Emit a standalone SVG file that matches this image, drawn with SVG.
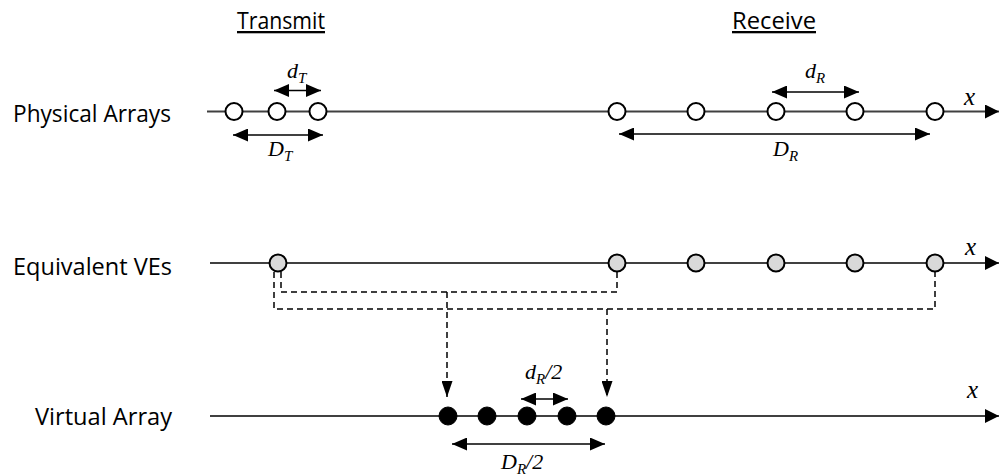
<svg xmlns="http://www.w3.org/2000/svg" width="999" height="476" viewBox="0 0 999 476">
  <defs>
    <marker id="tip" viewBox="0 0 15 13" refX="15" refY="6.5" markerWidth="15" markerHeight="13" markerUnits="userSpaceOnUse" orient="auto-start-reverse">
      <path d="M0,0 L15,6.5 L0,13 Z" fill="#000"/>
    </marker>
    <marker id="axis" viewBox="0 0 14 14" refX="14" refY="7" markerWidth="14" markerHeight="14" markerUnits="userSpaceOnUse" orient="auto">
      <path d="M0,0 L14,7 L0,14 Z" fill="#000"/>
    </marker>
    <marker id="drop" viewBox="0 0 11 16" refX="5.5" refY="16" markerWidth="11" markerHeight="16" markerUnits="userSpaceOnUse" orient="0">
      <path d="M0,0 L11,0 L5.5,16 Z" fill="#000"/>
    </marker>
  </defs>
  <style>
    .label { font-family: "Open Sans", "Liberation Sans", sans-serif; font-size: 23px; fill: #000; }
    .title { font-family: "Open Sans", "Liberation Sans", sans-serif; font-size: 23px; fill: #000; text-decoration: underline; }
    .math { font-family: "Liberation Serif", serif; font-style: italic; font-size: 22px; fill: #000; }
    .axisname { font-family: "Liberation Serif", serif; font-style: italic; font-size: 25px; fill: #000; }
    .sub { font-size: 15px; }
    .axisline { stroke: #404040; stroke-width: 2; fill: none; }
    .dim { stroke: #000; stroke-width: 1.5; fill: none; marker-start: url(#tip); marker-end: url(#tip); }
    .link { stroke: #000; stroke-width: 1.5; fill: none; stroke-dasharray: 6 4; }
    .open { fill: #fff; stroke: #000; stroke-width: 2; }
    .ve { fill: #d9d9d9; stroke: #000; stroke-width: 2; }
    .virt { fill: #000; stroke: #000; stroke-width: 1; }
  </style>

  <rect width="999" height="476" fill="#fff"/>

  <!-- column titles -->
  <text class="title" x="237" y="29" textLength="88" lengthAdjust="spacingAndGlyphs">Transmit</text>
  <text class="title" x="732" y="29" textLength="84" lengthAdjust="spacingAndGlyphs">Receive</text>

  <!-- row labels -->
  <text class="label" x="13" y="122" textLength="158" lengthAdjust="spacingAndGlyphs">Physical Arrays</text>
  <text class="label" x="13" y="275" textLength="159" lengthAdjust="spacingAndGlyphs">Equivalent VEs</text>
  <text class="label" x="35" y="425" textLength="137" lengthAdjust="spacingAndGlyphs">Virtual Array</text>

  <!-- axes and connectors -->
  <g id="connectors">
    <line class="axisline" x1="207" y1="111.5" x2="999" y2="111.5" marker-end="url(#axis)"/>
    <line class="axisline" x1="210" y1="263" x2="999" y2="263" marker-end="url(#axis)"/>
    <line class="axisline" x1="210" y1="416" x2="999" y2="416" marker-end="url(#axis)"/>

    <!-- spacing dimensions -->
    <line class="dim" x1="274" y1="90.5" x2="321" y2="90.5"/>
    <line class="dim" x1="233" y1="135" x2="323" y2="135"/>
    <line class="dim" x1="772" y1="92" x2="859" y2="92"/>
    <line class="dim" x1="619" y1="134" x2="930" y2="134"/>
    <line class="dim" x1="521" y1="399" x2="568" y2="399"/>
    <line class="dim" x1="452" y1="444" x2="605" y2="444"/>

    <!-- VE to virtual element mapping -->
    <path class="link" d="M281,272 V292 H617 V272"/>
    <path class="link" d="M274,272 V309 H935 V272"/>
    <path class="link" d="M447,292 V397" marker-end="url(#drop)"/>
    <path class="link" d="M607,309 V397" marker-end="url(#drop)"/>
  </g>

  <!-- dimension and axis labels -->
  <text class="math" x="287" y="78">d<tspan class="sub" dy="5">T</tspan></text>
  <text class="math" x="268" y="156">D<tspan class="sub" dy="5">T</tspan></text>
  <text class="math" x="805" y="78">d<tspan class="sub" dy="5">R</tspan></text>
  <text class="math" x="773" y="156">D<tspan class="sub" dy="5">R</tspan></text>
  <text class="axisname" x="964" y="105">x</text>
  <text class="axisname" x="965" y="255">x</text>
  <text class="axisname" x="967" y="398">x</text>
  <text class="math" x="525" y="379">d<tspan class="sub" dy="5">R</tspan><tspan dy="-5">/2</tspan></text>
  <text class="math" x="501" y="469">D<tspan class="sub" dy="5">R</tspan><tspan dy="-5">/2</tspan></text>

  <!-- physical transmit elements -->
  <g id="tx-elements">
    <circle class="open" cx="234" cy="111.5" r="8.5"/>
    <circle class="open" cx="277" cy="111.5" r="8.5"/>
    <circle class="open" cx="318" cy="111.5" r="8.5"/>
  </g>

  <!-- physical receive elements -->
  <g id="rx-elements">
    <circle class="open" cx="617" cy="111.5" r="8.5"/>
    <circle class="open" cx="696" cy="111.5" r="8.5"/>
    <circle class="open" cx="776" cy="111.5" r="8.5"/>
    <circle class="open" cx="855" cy="111.5" r="8.5"/>
    <circle class="open" cx="935" cy="111.5" r="8.5"/>
  </g>

  <!-- equivalent virtual elements -->
  <g id="ve-elements">
    <circle class="ve" cx="278" cy="263" r="8.5"/>
    <circle class="ve" cx="617" cy="263" r="8.5"/>
    <circle class="ve" cx="696" cy="263" r="8.5"/>
    <circle class="ve" cx="776" cy="263" r="8.5"/>
    <circle class="ve" cx="855" cy="263" r="8.5"/>
    <circle class="ve" cx="935" cy="263" r="8.5"/>
  </g>

  <!-- virtual array elements -->
  <g id="virtual-elements">
    <circle class="virt" cx="448" cy="416" r="9"/>
    <circle class="virt" cx="487" cy="416" r="9"/>
    <circle class="virt" cx="527" cy="416" r="9"/>
    <circle class="virt" cx="567" cy="416" r="9"/>
    <circle class="virt" cx="606" cy="416" r="9"/>
  </g>
</svg>
